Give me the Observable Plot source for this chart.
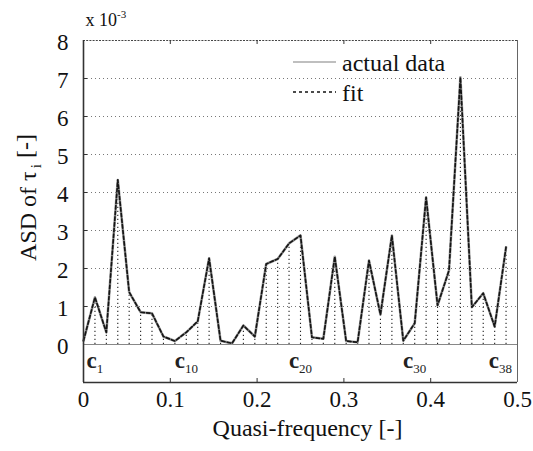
<!DOCTYPE html>
<html><head><meta charset="utf-8">
<script src="https://cdn.jsdelivr.net/npm/d3@7"></script>
<script src="https://cdn.jsdelivr.net/npm/@observablehq/plot@0.6"></script>
<style>html,body{margin:0;padding:0;background:#fff}svg{display:block}</style>
</head><body><div id="chart"></div>
<script>
// Coefficient index c_i, its quasi-frequency, and the ASD values (x 10^-3)
const coefIndex = [1,2,3,4,5,6,7,8,9,10,11,12,13,14,15,16,17,18,19,20,21,22,23,24,25,26,27,28,29,30,31,32,33,34,35,36,37,38];
const quasiFreq = [0,0.0132,0.0263,0.0395,0.0526,0.0658,0.0789,0.0921,0.1053,0.1184,0.1316,0.1447,0.1579,0.1711,0.1842,0.1974,0.2105,0.2237,0.2368,0.25,0.2632,0.2763,0.2895,0.3026,0.3158,0.3289,0.3421,0.3553,0.3684,0.3816,0.3947,0.4079,0.4211,0.4342,0.4474,0.4605,0.4737,0.4868];
const actualData = [0.10,1.24,0.32,4.33,1.38,0.85,0.82,0.21,0.09,0.32,0.61,2.27,0.10,0.03,0.50,0.21,2.12,2.25,2.66,2.87,0.19,0.15,2.31,0.09,0.06,2.21,0.79,2.87,0.10,0.56,3.87,1.03,1.95,7.03,0.98,1.35,0.47,2.56];
const fitData    = [0.10,1.24,0.32,4.33,1.38,0.85,0.82,0.21,0.09,0.32,0.61,2.27,0.10,0.03,0.50,0.21,2.12,2.25,2.66,2.87,0.19,0.15,2.31,0.09,0.06,2.21,0.79,2.87,0.10,0.56,3.87,1.03,1.95,7.03,0.98,1.35,0.47,2.56];

const xTickValues = [0, 0.1, 0.2, 0.3, 0.4, 0.5];
const xTickLabels = ["0", "0.1", "0.2", "0.3", "0.4", "0.5"];
const yTickValues = [0, 1, 2, 3, 4, 5, 6, 7, 8];
const yTickLabels = ["0", "1", "2", "3", "4", "5", "6", "7", "8"];
const labeledCoefsMiddle = [10, 20, 30];
const labeledCoefFirst = [1];
const labeledCoefLast = [38];
const legendLabels = ["actual data", "fit"];
const xTitle = "Quasi-frequency [-]";
const yTitle = "ASD of τ_i [-]";
const scaleNote = "x 10^-3";

const rows = coefIndex.map((c, i) => ({c, f: quasiFreq[i], asd: actualData[i], fit: fitData[i]}));
const freqOf = c => quasiFreq[coefIndex.indexOf(c)];
const innerX = xTickValues.slice(1, -1);
const innerY = yTickValues.slice(1, -1);
const serif = "'Liberation Serif', 'Times New Roman', serif";

const svg = Plot.plot({
  width: 533, height: 451,
  marginLeft: 83, marginRight: 16, marginTop: 40, marginBottom: 69,
  x: {domain: [0, 0.5], axis: null},
  y: {domain: [-1, 8], axis: null},
  style: {fontFamily: serif, background: "#fff", color: "#111"},
  marks: [
    Plot.ruleY(innerY, {y: d => d, stroke: "#777", strokeDasharray: "1,3", strokeWidth: 1}),
    Plot.ruleY([0], {y: d => d, stroke: "#888", strokeWidth: 1}),
    Plot.ruleX(rows, {x: "f", y1: 0, y2: "asd", stroke: "#222", strokeWidth: 1.1, strokeDasharray: "1.2,2.8"}),
    Plot.line(rows, {x: "f", y: "asd", stroke: "#a0a0a0", strokeWidth: 2.6}),
    Plot.line(rows, {x: "f", y: "fit", stroke: "#151515", strokeWidth: 1.7, strokeDasharray: "3.5,2.2"}),
    // frame
    Plot.ruleY([8], {y: d => d, stroke: "#444", strokeWidth: 1, strokeDasharray: "2,1.2"}),
    Plot.ruleX([0.5], {x: d => d, stroke: "#666", strokeWidth: 1}),
    Plot.ruleX([0], {x: d => d, stroke: "#333", strokeWidth: 1.6}),
    Plot.ruleY([-1], {y: d => d, stroke: "#333", strokeWidth: 1.6}),
    // inward ticks
    Plot.ruleX(innerX, {x: d => d, y1: -1, y2: -1, insetTop: -4, stroke: "#333"}),
    Plot.ruleX(innerX, {x: d => d, y1: 8, y2: 8, insetBottom: -4, stroke: "#333"}),
    Plot.ruleY(innerY, {y: d => d, x1: 0, x2: 0, insetRight: -4, stroke: "#333"}),
    // tick labels
    Plot.text(xTickValues, {x: d => d, text: (d, i) => xTickLabels[i], frameAnchor: "bottom", lineAnchor: "middle", textAnchor: "middle", dy: 17, fontSize: 23, fill: "#111"}),
    Plot.text(yTickValues, {y: d => d, text: (d, i) => yTickLabels[i], frameAnchor: "left", lineAnchor: "middle", textAnchor: "end", dx: -15, dy: 2, fontSize: 23, fill: "#111"}),
    // coefficient labels
    Plot.text(labeledCoefsMiddle, {x: d => freqOf(d), text: d => "c" + d, frameAnchor: "bottom", lineAnchor: "middle", textAnchor: "middle", dy: -22, fontSize: 23, fontWeight: "bold", fill: "#222"}),
    Plot.text(labeledCoefFirst, {x: d => freqOf(d), text: d => "c" + d, frameAnchor: "bottom", lineAnchor: "middle", textAnchor: "start", dx: 3, dy: -22, fontSize: 23, fontWeight: "bold", fill: "#222"}),
    Plot.text(labeledCoefLast, {x: d => freqOf(d), text: d => "c" + d, frameAnchor: "bottom", lineAnchor: "middle", textAnchor: "end", dx: 6, dy: -22, fontSize: 23, fontWeight: "bold", fill: "#222"}),
    // titles
    Plot.text([xTitle], {text: d => d, frameAnchor: "bottom", lineAnchor: "middle", textAnchor: "middle", dx: 7, dy: 46, fontSize: 24, fill: "#111"}),
    Plot.text([yTitle], {text: d => d, frameAnchor: "left", lineAnchor: "middle", textAnchor: "middle", rotate: -90, dx: -55, dy: -14, fontSize: 24, fill: "#111"}),
    Plot.text([scaleNote], {text: d => d, frameAnchor: "top-left", lineAnchor: "middle", textAnchor: "start", dx: 2, dy: -20, fontSize: 18, fill: "#111"})
  ]
});

const NS = "http://www.w3.org/2000/svg";
function span(txt, attrs) {
  const s = document.createElementNS(NS, "tspan");
  for (const k in attrs) s.setAttribute(k, attrs[k]);
  s.textContent = txt;
  return s;
}
svg.querySelectorAll("text").forEach(t => {
  const s = t.textContent;
  let m = s.match(/^c(\d+)$/);
  if (m) {
    t.textContent = "c";
    t.appendChild(span(m[1], {"font-size": 13, "font-weight": "normal", dy: "0.38em"}));
    return;
  }
  if (s === yTitle) {
    const [a, b] = s.split("_");
    t.textContent = a;
    t.appendChild(span(b[0], {"font-size": 15, dy: "0.3em", dx: 3}));
    t.appendChild(span(b.slice(1), {dy: "-0.3em"}));
    return;
  }
  if (s === scaleNote) {
    const [a, b] = s.split("^");
    t.textContent = a;
    t.appendChild(span(b, {"font-size": 11, dy: "-0.75em"}));
  }
});

// legend
const lg = d3.select(svg).append("g").attr("font-family", serif).attr("font-size", 24).attr("fill", "#111").attr("text-anchor", "start");
const legendStyles = [
  {stroke: "#aaa", width: 1.6, dash: null},
  {stroke: "#111", width: 1.6, dash: "3,3"}
];
legendLabels.forEach((lab, i) => {
  const y = 62 + i * 30;
  const st = legendStyles[i];
  const ln = lg.append("line").attr("x1", 293).attr("x2", 336).attr("y1", y).attr("y2", y)
    .attr("stroke", st.stroke).attr("stroke-width", st.width);
  if (st.dash) ln.attr("stroke-dasharray", st.dash);
  lg.append("text").attr("x", 342).attr("y", y + 1).attr("dy", "0.32em").attr("text-anchor", "start").text(lab);
});

document.getElementById("chart").appendChild(svg);
</script>
</body></html>
